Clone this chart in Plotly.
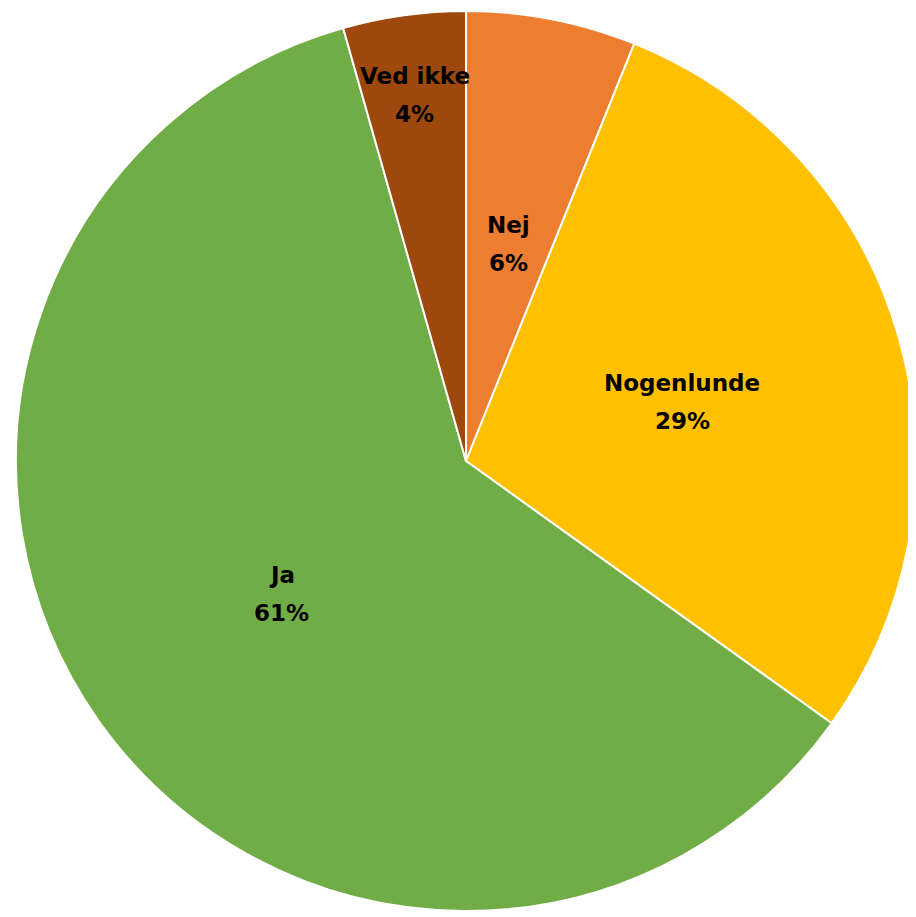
import math
import plotly.graph_objects as go

labels = ["Nej", "Nogenlunde", "Ja", "Ved ikke"]
values = [6.1, 28.8, 60.7, 4.4]
colors = ["#ED7D31", "#FFC000", "#70AD47", "#9E480E"]
label_radius = [0.5, 0.5, 0.5, 0.83]

W, H = 908, 909
cx, cy, R = 458, 453, 450
dom_x = [max(0, (cx - R) / W), min(1, (cx + R) / W)]
dom_y = [max(0, (H - (cy + R)) / H), min(1, (H - (cy - R)) / H)]

fig = go.Figure(go.Pie(
    labels=labels, values=values, sort=False, direction="clockwise", rotation=0,
    marker=dict(colors=colors, line=dict(color="white", width=2)),
    textinfo="none", hoverinfo="label+percent", showlegend=False,
    domain=dict(x=dom_x, y=dom_y),
))

total = sum(values)
cum = 0
annotations = []
font = dict(family="DejaVu Sans, sans-serif", size=23, color="#000000")
for lab, v, rf in zip(labels, values, label_radius):
    mid = (cum + v / 2) / total * 2 * math.pi
    cum += v
    px = cx + rf * R * math.sin(mid)
    py = cy - rf * R * math.cos(mid)
    xp, yp = px / W, 1 - py / H
    for txt, dy in ((f"<b>{lab}</b>", 15), (f"<b>{v/total:.0%}</b>", -23)):
        annotations.append(dict(x=xp, y=yp, xref="paper", yref="paper", text=txt,
                                xanchor="center", yanchor="middle",
                                showarrow=False, font=font, yshift=dy))

fig.update_layout(width=W, height=H, margin=dict(l=0, r=0, t=0, b=0),
                  paper_bgcolor="white", plot_bgcolor="white", annotations=annotations)
fig.write_html("out.html")
